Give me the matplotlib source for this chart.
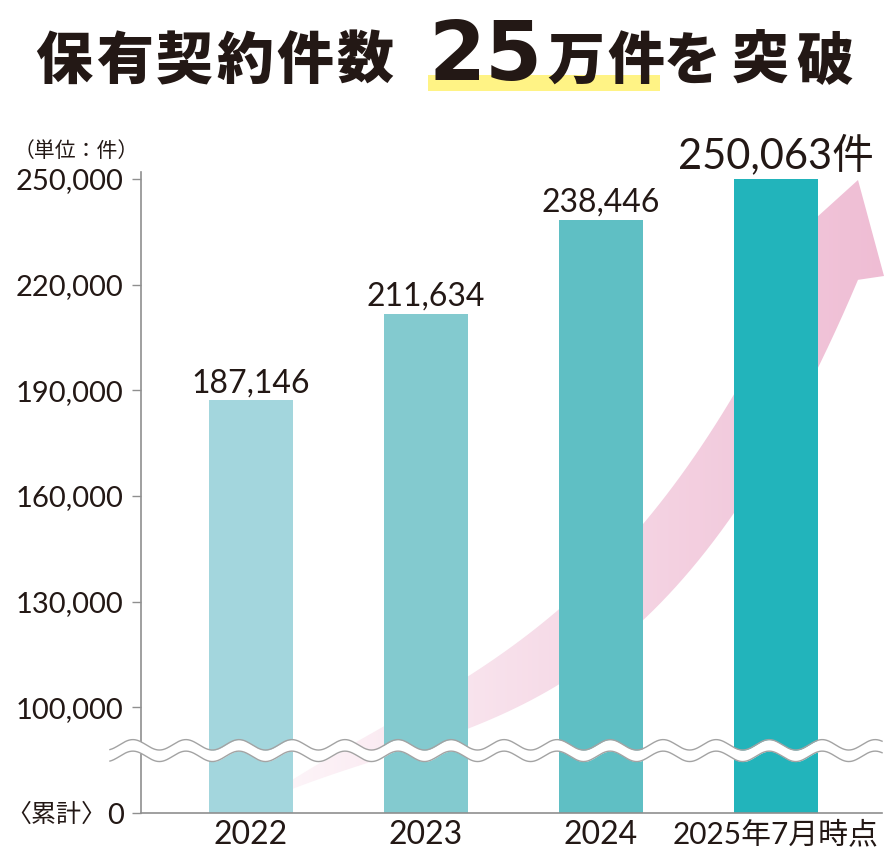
import matplotlib.pyplot as plt
import numpy as np
from matplotlib.colors import LinearSegmentedColormap
from matplotlib.patches import Polygon, Rectangle

years = ['2022', '2023', '2024', '2025年7月時点']
contracts = [187146, 211634, 238446, 250063]
value_labels = ['187,146', '211,634', '238,446', '250,063件']
bar_colors = ['#a3d6dd', '#83cacf', '#5fbfc4', '#22b4bb']
y_ticks = [100000, 130000, 160000, 190000, 220000, 250000]

INK = '#231815'
GRAY = '#8f8f8f'
# broken axis: the "0" line sits where 70,000 would be
FLOOR = 70000

plt.rcParams['font.family'] = ['Lato', 'Noto Sans CJK JP']

fig = plt.figure(figsize=(8.9, 8.6), dpi=100)

# background layer in pixel coords (title + decorative arrow)
bg = fig.add_axes([0, 0, 1, 1], zorder=0)
bg.set_xlim(0, 890)
bg.set_ylim(860, 0)
bg.axis('off')

# --- pink growth arrow behind the bars
up_x = [258, 293, 384, 468, 560, 644, 734, 805]
up_y = [800, 780, 732, 675, 603, 520, 405, 253]
lo_x = [258, 293, 384, 468, 560, 644, 734, 818, 858]
lo_y = [800, 790, 764, 728, 680, 613, 517, 380, 270]
ux = np.linspace(258, 805, 80)
uy = np.polyval(np.polyfit(up_x, up_y, 3), ux)
lx = np.linspace(258, 858, 80)
ly = np.polyval(np.polyfit(lo_x, lo_y, 3), lx)
head = [(784, 247), (858, 180), (884, 276)]
pts = list(zip(ux, uy)) + head + list(zip(lx[::-1], ly[::-1]))
arrow = Polygon(pts, closed=True, fill=False, lw=0)
bg.add_patch(arrow)
pink = LinearSegmentedColormap.from_list('pink', ['#fef7fa', '#f6dae7', '#efbdd4'])
grad = np.linspace(0, 1, 256).reshape(1, -1)
im = bg.imshow(grad, cmap=pink, extent=[258, 884, 860, 170], aspect='auto', zorder=1)
im.set_clip_path(arrow)
bg.set_xlim(0, 890)
bg.set_ylim(860, 0)

# --- title
bg.add_patch(Rectangle((428, 75), 232, 16, color='#fff385', lw=0, zorder=2))
for i, ch in enumerate('保有契約件数'):
    bg.text(64 + 60.2 * i, 79, ch, ha='center', va='baseline', fontsize=41,
            family='Noto Sans CJK JP', fontweight='black', color=INK, zorder=3)
for cx, ch in zip([457, 513], '25'):
    bg.text(cx, 80, ch, ha='center', va='baseline', fontsize=59,
            family='DejaVu Sans', fontweight='bold', color=INK, zorder=3)
for cx, ch in zip([576, 636, 692, 760, 825], '万件を突破'):
    bg.text(cx, 79, ch, ha='center', va='baseline', fontsize=41,
            family='Noto Sans CJK JP', fontweight='black', color=INK, zorder=3)

bg.text(76, 151, '（単位：件）', ha='center', va='center', fontsize=15,
        family='Noto Sans CJK JP', color=INK)
# the cumulative marker in front of the "0" tick label
bg.text(106, 815, '〈累計〉', ha='right', va='center', fontsize=18,
        family='Noto Sans CJK JP', color=INK)

# --- main chart
ax = fig.add_axes([141 / 890, 47 / 860, 741 / 890, 641 / 860], zorder=1)
ax.set_facecolor('none')

x = np.arange(len(years))
ax.bar(x, np.array(contracts) - FLOOR, bottom=FLOOR, width=0.48,
       color=bar_colors, zorder=2)

for i, (v, lab) in enumerate(zip(contracts, value_labels)):
    last = i == len(contracts) - 1
    ax.annotate(lab, (x[i], v), xytext=(0, 8 if last else 6), textcoords='offset points',
                ha='center', va='baseline', fontsize=30 if last else 23, color=INK)

# wavy break between 0 and 100,000
wx = np.linspace(-0.806, 3.606, 800)
wave = 1480 * np.cos(2 * np.pi * (wx - 0.537) / 0.303)
ax.fill_between(wx, 86090 + wave, 89360 + wave, color='white', lw=0, zorder=5, clip_on=False)
ax.plot(wx, 89360 + wave, color='#a3a3a3', lw=1.0, zorder=6, clip_on=False)
ax.plot(wx, 86090 + wave, color='#a3a3a3', lw=1.0, zorder=6, clip_on=False)

ax.set_xlim(-0.6286, 3.6057)
ax.set_ylim(FLOOR, 252000)
ax.set_yticks([FLOOR] + y_ticks)
ax.set_yticklabels(['0'] + [f'{t:,}' for t in y_ticks])
ax.set_xticks(x)
ax.set_xticklabels(years)
ax.tick_params(axis='y', length=6.5, width=1, color=GRAY, pad=6, labelsize=21, labelcolor=INK)
ax.tick_params(axis='x', length=0, pad=5, labelsize=23, labelcolor=INK)
ax.get_xticklabels()[-1].set_fontsize(21.5)
for side in ['top', 'right']:
    ax.spines[side].set_visible(False)
for side in ['left', 'bottom']:
    ax.spines[side].set_color(GRAY)
    ax.spines[side].set_linewidth(1.2)

fig.savefig('out.png', dpi=100)
